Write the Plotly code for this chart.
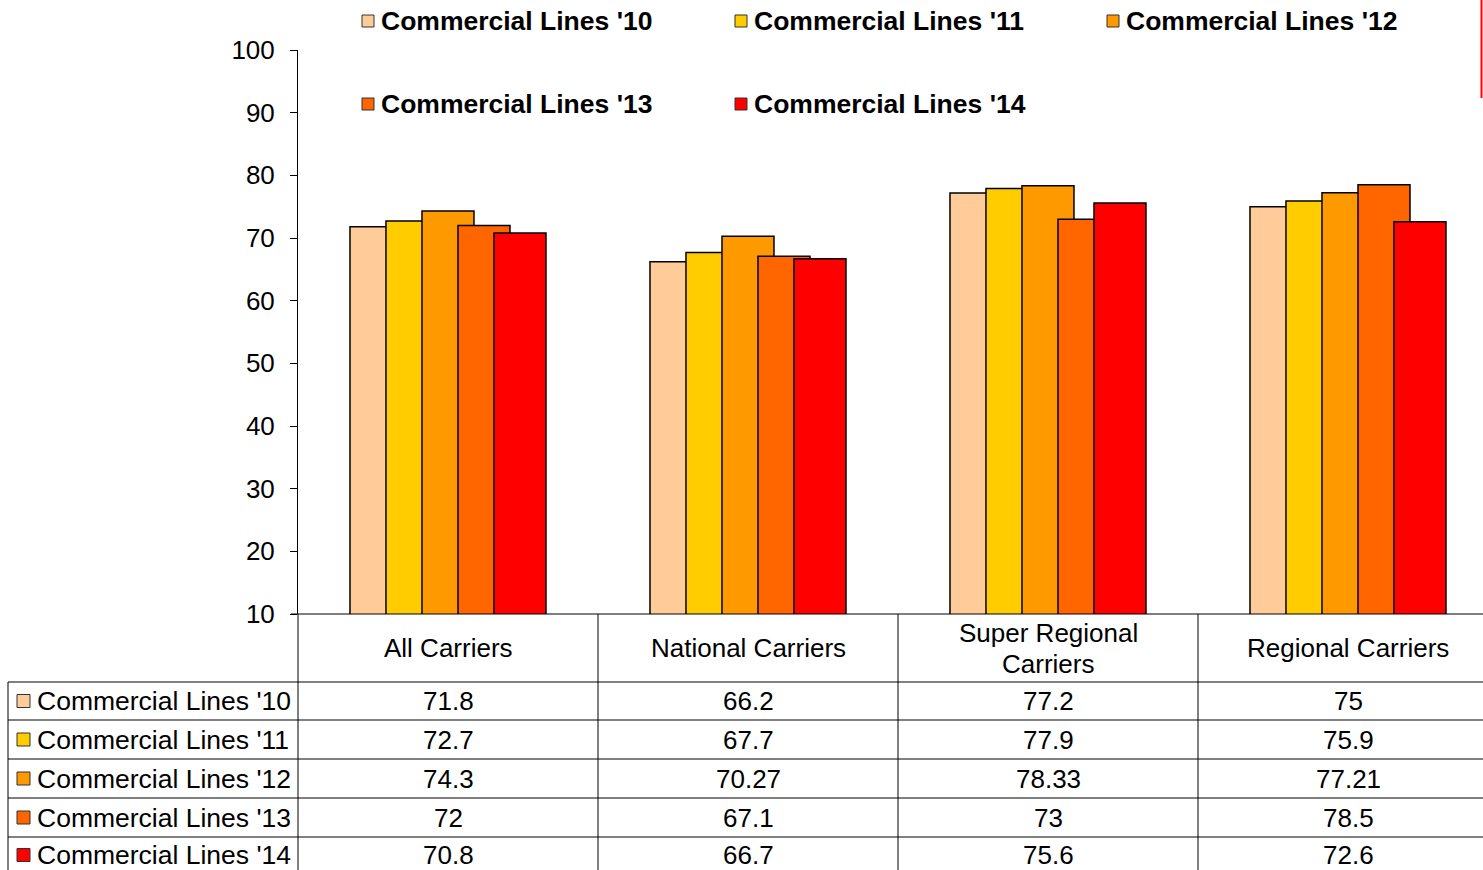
import plotly.graph_objects as go

# Segment categories and yearly scores
categories = ["All Carriers", "National Carriers", "Super Regional<br>Carriers", "Regional Carriers"]
series_names = ["Commercial Lines '10", "Commercial Lines '11", "Commercial Lines '12",
                "Commercial Lines '13", "Commercial Lines '14"]
lines_10 = [71.8, 66.2, 77.2, 75]
lines_11 = [72.7, 67.7, 77.9, 75.9]
lines_12 = [74.3, 70.27, 78.33, 77.21]
lines_13 = [72, 67.1, 73, 78.5]
lines_14 = [70.8, 66.7, 75.6, 72.6]
series_values = [lines_10, lines_11, lines_12, lines_13, lines_14]
colors = ["#FFCC99", "#FFCC00", "#FF9900", "#FF6600", "#FF0000"]
y_ticks = [10, 20, 30, 40, 50, 60, 70, 80, 90, 100]

W, H = 1483, 870
FONT = "Liberation Sans, Arial, sans-serif"


def px(x):
    return x / W


def py(y):
    return 1 - y / H


x_pos = list(range(len(categories)))

fig = go.Figure()

# Overlapping clustered bars: each bar is wider than the step between them
bar_w = 0.1733
step = 0.12
start = -0.3267
for i, (name, vals, col) in enumerate(zip(series_names, series_values, colors)):
    fig.add_trace(go.Bar(
        x=x_pos, y=vals, name=name,
        width=bar_w, offset=start + i * step,
        marker=dict(color=col, line=dict(color="#000000", width=1.5)),
        showlegend=False, hoverinfo="y+name",
    ))

shapes = []
annotations = []

# Legend across the top
legend_pos = [(362, 21), (735, 21), (1107, 21), (362, 104), (735, 104)]
for (lx, ly), name, col in zip(legend_pos, series_names, colors):
    shapes.append(dict(type="rect", xref="paper", yref="paper",
                       x0=px(lx), x1=px(lx + 12), y0=py(ly + 6), y1=py(ly - 6),
                       fillcolor=col, line=dict(color="#333333", width=1)))
    annotations.append(dict(xref="paper", yref="paper", x=px(lx + 17), y=py(ly),
                            xanchor="left", yanchor="middle", showarrow=False,
                            text="<b>%s</b>" % name,
                            font=dict(family=FONT, size=26.5, color="#000000")))

# Data table below the plot
row_lines = [682, 720, 759, 798, 837, 876]
line_style = dict(color="#000000", width=1)
for yl in row_lines:
    shapes.append(dict(type="line", xref="paper", yref="paper",
                       x0=px(8), x1=1, y0=py(yl), y1=py(yl), line=line_style))
shapes.append(dict(type="line", xref="paper", yref="paper",
                   x0=px(8), x1=px(8), y0=py(682), y1=0, line=line_style))
shapes.append(dict(type="line", xref="paper", yref="paper",
                   x0=px(298), x1=px(298), y0=py(614), y1=0, line=line_style))
for k in range(len(categories) - 1):
    shapes.append(dict(type="line", xref="x", yref="paper",
                       x0=k + 0.5, x1=k + 0.5, y0=py(614), y1=0, line=line_style))
# x-axis baseline
shapes.append(dict(type="line", xref="paper", yref="paper",
                   x0=px(291), x1=1, y0=py(614), y1=py(614), line=line_style))

# Header row with category names (multi-line names get tighter line spacing)
for k, cat in enumerate(categories):
    parts = cat.split("<br>")
    n = len(parts)
    for j, part in enumerate(parts):
        ly = 648 + (j - (n - 1) / 2) * 31
        annotations.append(dict(xref="x", yref="paper", x=k, y=py(ly),
                                xanchor="center", yanchor="middle", showarrow=False,
                                text=part, align="center",
                                font=dict(family=FONT, size=26, color="#000000")))

# Value rows
for r, (name, vals, col) in enumerate(zip(series_names, series_values, colors)):
    top, bot = row_lines[r], row_lines[r + 1]
    cy = min((top + bot) / 2, 855)
    shapes.append(dict(type="rect", xref="paper", yref="paper",
                       x0=px(17), x1=px(30), y0=py(cy + 6.5), y1=py(cy - 6.5),
                       fillcolor=col, line=dict(color="#333333", width=1)))
    annotations.append(dict(xref="paper", yref="paper", x=px(35), y=py(cy),
                            xanchor="left", yanchor="middle", showarrow=False,
                            text=name,
                            font=dict(family=FONT, size=26.5, color="#000000")))
    for k, v in enumerate(vals):
        annotations.append(dict(xref="x", yref="paper", x=k, y=py(cy),
                                xanchor="center", yanchor="middle", showarrow=False,
                                text=f"{v:g}",
                                font=dict(family=FONT, size=26, color="#000000")))

# Red accent line at the top-right edge
shapes.append(dict(type="line", xref="paper", yref="paper",
                   x0=px(1481.5), x1=px(1481.5), y0=1, y1=py(98),
                   line=dict(color="#FF0000", width=2)))

fig.update_layout(
    width=W, height=H,
    margin=dict(l=0, r=0, t=0, b=0, pad=0, autoexpand=False),
    paper_bgcolor="white", plot_bgcolor="white",
    barmode="overlay",
    showlegend=False,
    shapes=shapes,
    annotations=annotations,
    font=dict(family=FONT, size=26, color="#000000"),
    xaxis=dict(domain=[px(298), 1], range=[-0.5, 3.45], automargin=False,
               showticklabels=False, showgrid=False, zeroline=False,
               showline=False, ticks=""),
    yaxis=dict(domain=[py(614), py(50)], range=[10, 100], automargin=False,
               tickvals=y_ticks, ticktext=[str(t) for t in y_ticks],
               ticks="outside", ticklen=7, tickcolor="#000000", tickwidth=1,
               showline=True, linecolor="#000000", linewidth=1,
               showgrid=False, zeroline=False, ticklabelstandoff=10,
               tickfont=dict(family=FONT, size=26, color="#000000")),
)

fig.write_html("out.html")
